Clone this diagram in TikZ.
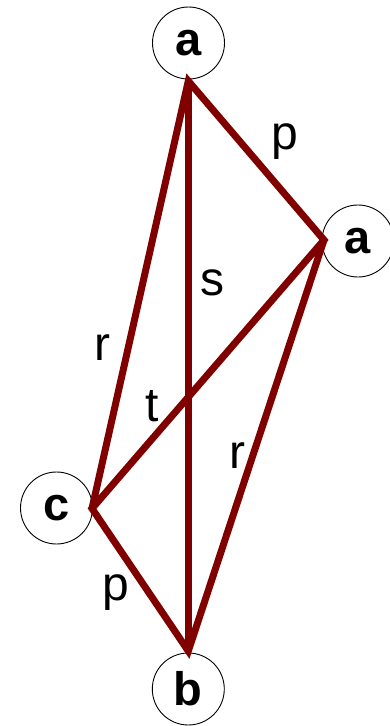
\documentclass[tikz,border=0pt]{standalone}
\usepackage{fontspec}
\setmainfont{Liberation Sans}
\definecolor{edgered}{RGB}{128,0,0}
\begin{document}
\begin{tikzpicture}[x=1pt,y=-1pt,
  vnode/.style={circle,draw=black,line width=0.9pt,minimum size=72pt,inner sep=0pt,
    font=\fontsize{47}{47}\selectfont\bfseries},
  edge/.style={draw=edgered,line width=7pt,line join=miter},
  elabel/.style={anchor=base,inner sep=0pt,font=\fontsize{48}{48}\selectfont}]
\useasboundingbox (0,0) rectangle (389,726);
\node[vnode] (at) at (188.5,43) {a};
\node[vnode] (ar) at (358,241) {a};
\node[vnode] (c) at (56.5,508) {c};
\node[vnode] (b) at (188.3,689) {b};
\coordinate (pt) at (188.3,81);
\coordinate (pr) at (324,240);
\coordinate (pc) at (92,508.5);
\coordinate (pb) at (188.3,651);
\path[edge] (pc) -- (pt) -- (pr) -- (pc) -- (pb) -- (pr);
\path[edge] (pt) -- (pb);
\node[elabel] (lp1) at (284.5,149) {p};
\node[elabel] (ls) at (212.5,295) {s};
\node[elabel] (lr1) at (102.5,360) {r};
\node[elabel] (lt) at (152.5,421) {t};
\node[elabel] (lr2) at (237.5,468) {r};
\node[elabel] (lp2) at (116,600) {p};
\end{tikzpicture}
\end{document}
